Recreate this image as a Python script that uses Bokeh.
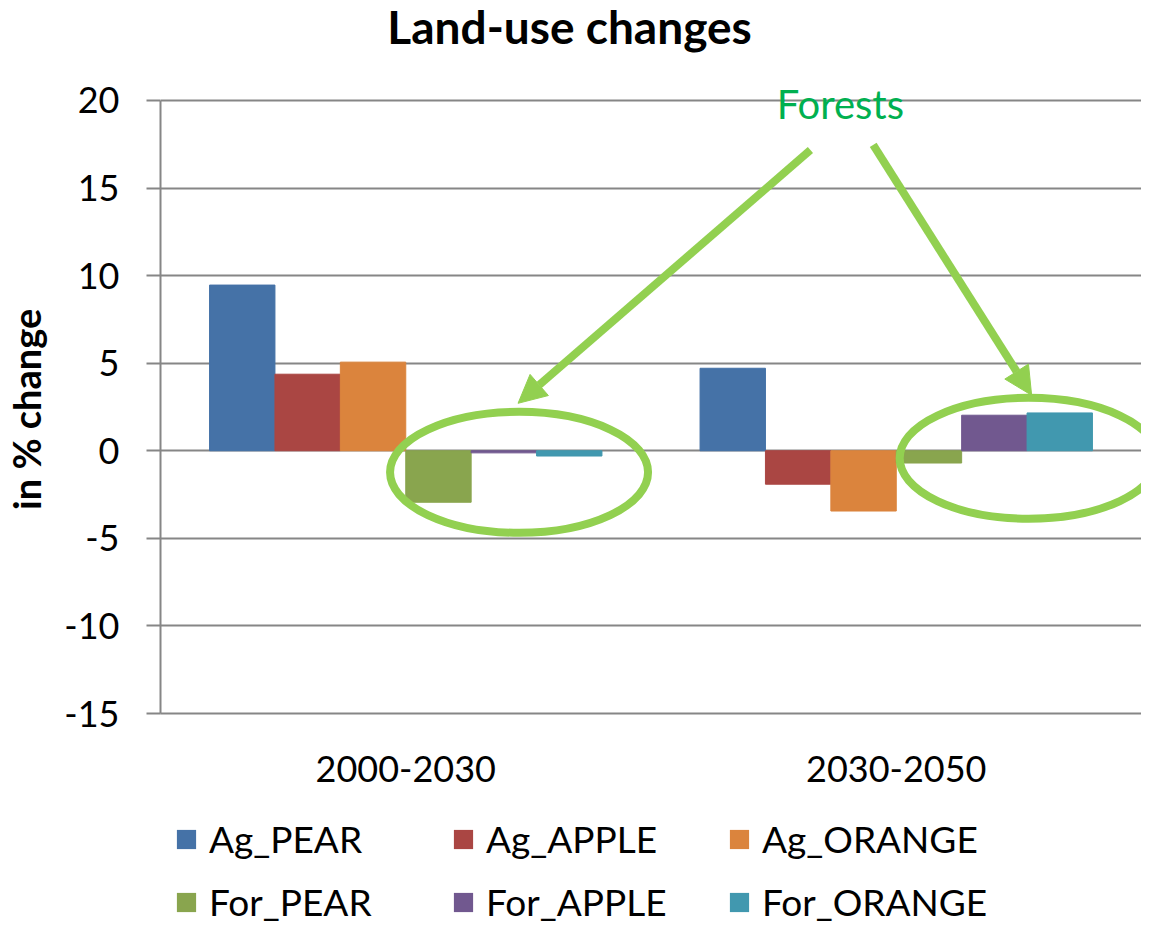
from bokeh.plotting import figure
from bokeh.layouts import column
from bokeh.models import Range1d, FixedTicker, Legend, LegendItem, Arrow, NormalHead, Label
from bokeh.embed import file_html
from bokeh.resources import INLINE

# ---- data ----
title_text = "Land-use changes"
periods = ["2000-2030", "2030-2050"]
series = ["Ag_PEAR", "Ag_APPLE", "Ag_ORANGE", "For_PEAR", "For_APPLE", "For_ORANGE"]
ag_pear = [9.46, 4.71]
ag_apple = [4.37, -1.91]
ag_orange = [5.06, -3.44]
for_pear = [-2.94, -0.70]
for_apple = [-0.12, 2.03]
for_orange = [-0.30, 2.16]
values = [ag_pear, ag_apple, ag_orange, for_pear, for_apple, for_orange]
colors = ["#4572A7", "#AA4643", "#DB843D", "#89A54E", "#71588F", "#4198AF"]
y_ticks = [-15, -10, -5, 0, 5, 10, 15, 20]

# annotation positions (data units)
arrow_starts = [(1.325, 17.17), (1.453, 17.46)]
arrow_ends = [(0.729, 2.71), (1.776, 3.17)]
ellipse_x = [0.731, 1.770]
ellipse_y = [-1.23, -0.43]
forests_pos = (1.386, 19.8)
title_pos = (0.834, 26)   # x in chart units, y in strip pixels from top

FONT = "Lato"
GRAY = "#868686"
GREEN = "#92D050"
STRIP = dict(x_axis_type=None, y_axis_type=None, output_backend="svg", toolbar_location=None,
             title=None, min_border_left=151, min_border_right=0, min_border_top=0,
             min_border_bottom=0)

xr = Range1d(0, 2)

# ---- title strip ----
t = figure(width=1141, height=77, x_range=xr, y_range=Range1d(77, 0), **STRIP)
t.outline_line_color = None
t.add_layout(Label(x=title_pos[0], y=title_pos[1], text=title_text, text_color="black",
                   text_font=FONT, text_font_size="46px", text_font_style="bold",
                   text_align="center", text_baseline="alphabetic"))

# ---- main chart ----
p = figure(width=1141, height=726, x_range=xr, y_range=Range1d(-15, 21.31), title=None,
           output_backend="svg", toolbar_location=None,
           min_border_left=151, min_border_right=0, min_border_top=0, min_border_bottom=90)
p.outline_line_color = None

p.xgrid.visible = False
p.ygrid.ticker = FixedTicker(ticks=y_ticks)
p.ygrid.grid_line_color = GRAY
p.ygrid.grid_line_width = 2

ya = p.yaxis[0]
ya.ticker = FixedTicker(ticks=y_ticks)
ya.bounds = (y_ticks[0], y_ticks[-1])
ya.major_label_overrides = {tk: str(tk) for tk in y_ticks}
ya.major_label_text_font = FONT
ya.major_label_text_font_size = "36px"
ya.major_label_text_color = "black"
ya.major_tick_out = 14
ya.major_tick_in = 0
ya.minor_tick_out = 0
ya.minor_tick_in = 0
ya.axis_line_color = GRAY
ya.axis_line_width = 2
ya.major_tick_line_color = GRAY
ya.major_tick_line_width = 2
ya.major_label_standoff = 27
# trailing no-break spaces keep the label centred on the -15..20 span rather than the frame
ya.axis_label = "in % change" + "\u00a0" * 3
ya.axis_label_text_font = FONT
ya.axis_label_text_font_size = "38px"
ya.axis_label_text_font_style = "bold"
ya.axis_label_text_color = "black"
ya.axis_label_standoff = 12

centers = [i + 0.5 for i in range(len(periods))]
xa = p.xaxis[0]
xa.ticker = FixedTicker(ticks=centers)
xa.major_label_overrides = {c: lab for c, lab in zip(centers, periods)}
xa.major_label_text_font = FONT
xa.major_label_text_font_size = "36px"
xa.major_label_text_color = "black"
xa.major_tick_line_color = None
xa.minor_tick_line_color = None
xa.axis_line_color = GRAY
xa.axis_line_width = 2
xa.major_label_standoff = 36

group = 0.8
bw = group / len(series)
bar_x = []
for j, (name, vals, col) in enumerate(zip(series, values, colors)):
    xs = [i + (1 - group) / 2 + (j + 0.5) * bw for i in range(len(periods))]
    bar_x.append(xs)
    p.vbar(x=xs, top=vals, bottom=0, width=bw, fill_color=col, line_color=col)

p.ellipse(x=ellipse_x, y=ellipse_y, width=258, height=121, width_units="screen",
          height_units="screen", fill_color=None, line_color=GREEN, line_width=8)

for (xs0, ys0), (xe0, ye0) in zip(arrow_starts, arrow_ends):
    p.add_layout(Arrow(end=NormalHead(size=28, fill_color=GREEN, line_color=GREEN, line_width=1),
                       x_start=xs0, y_start=ys0, x_end=xe0, y_end=ye0,
                       line_color=GREEN, line_width=8))

p.add_layout(Label(x=forests_pos[0], y=forests_pos[1], text="Forests", text_color="#00B050",
                   text_font=FONT, text_font_size="40px", text_align="center",
                   text_baseline="middle"))

# ---- legend strip ----
q = figure(width=1141, height=121, x_range=xr, y_range=Range1d(1000, 1001), **STRIP)
q.outline_line_color = None
# zero-height copies of the bars: invisible, used only for the legend swatches
swatches = [q.vbar(x=xs, top=vals, bottom=vals, width=bw, fill_color=col, line_color=None)
            for xs, vals, col in zip(bar_x, values, colors)]

col_x = [14, 291, 567]
for c in range(3):
    items = [LegendItem(label=series[c], renderers=[swatches[c]]),
             LegendItem(label=series[c + 3], renderers=[swatches[c + 3]])]
    lg = Legend(items=items, location=(col_x[c], 0), orientation="vertical",
                padding=0, margin=0, border_line_color=None, background_fill_alpha=0,
                glyph_width=24, glyph_height=24, label_standoff=11, spacing=18,
                label_height=44, label_text_font=FONT, label_text_font_size="37px",
                label_text_color="black")
    q.add_layout(lg, "center")

layout = column(t, p, q, spacing=0)
open("out.html", "w").write(file_html(layout, INLINE))
